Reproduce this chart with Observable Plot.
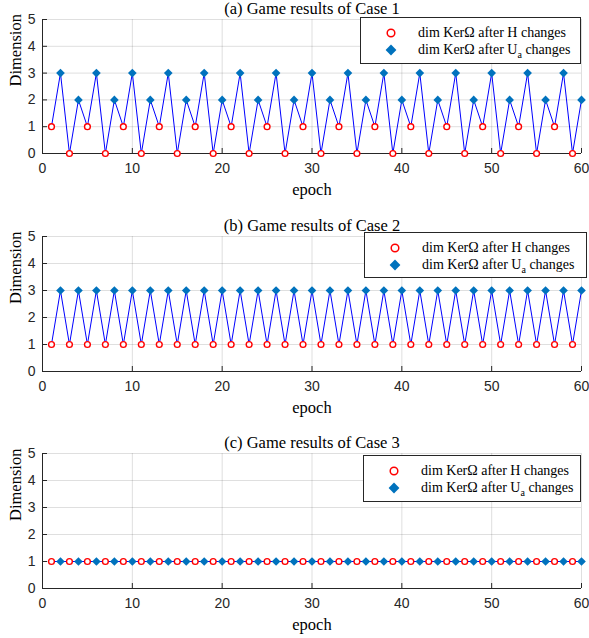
<!DOCTYPE html>
<html>
<head>
<meta charset="utf-8">
<script src="https://cdn.jsdelivr.net/npm/d3@7"></script>
<script src="https://cdn.jsdelivr.net/npm/@observablehq/plot@0.6"></script>
<style>
  html, body { margin: 0; padding: 0; background: #fff; }
  #wrap { position: relative; width: 589px; height: 638px; overflow: hidden; }
  .panel { position: absolute; left: 0; }
  .legend {
    position: absolute; background: #fff; border: 1px solid #262626;
    font-family: "Liberation Serif", "Times New Roman", serif; font-size: 14px; color: #000;
    box-sizing: border-box;
  }
  .legend .row { position: absolute; left: 0; height: 16px; line-height: 16px; white-space: nowrap; }
  .legend svg { position: absolute; top: 0; }
  .legend .lbl { position: absolute; top: 0; }
  .legend sub { font-size: 10px; vertical-align: -4px; line-height: 0; }
</style>
</head>
<body>
<div id="wrap"></div>
<script>
// ---- data ----
const epochs = [1,2,3,4,5,6,7,8,9,10,11,12,13,14,15,16,17,18,19,20,
  21,22,23,24,25,26,27,28,29,30,31,32,33,34,35,36,37,38,39,40,
  41,42,43,44,45,46,47,48,49,50,51,52,53,54,55,56,57,58,59,60];
const case1 = [1,3,0,2,1,3,0,2,1,3,0,2,1,3,0,2,1,3,0,2,
  1,3,0,2,1,3,0,2,1,3,0,2,1,3,0,2,1,3,0,2,
  1,3,0,2,1,3,0,2,1,3,0,2,1,3,0,2,1,3,0,2];
const case2 = [1,3,1,3,1,3,1,3,1,3,1,3,1,3,1,3,1,3,1,3,
  1,3,1,3,1,3,1,3,1,3,1,3,1,3,1,3,1,3,1,3,
  1,3,1,3,1,3,1,3,1,3,1,3,1,3,1,3,1,3,1,3];
const case3 = [1,1,1,1,1,1,1,1,1,1,1,1,1,1,1,1,1,1,1,1,
  1,1,1,1,1,1,1,1,1,1,1,1,1,1,1,1,1,1,1,1,
  1,1,1,1,1,1,1,1,1,1,1,1,1,1,1,1,1,1,1,1];
const titles = ["(a) Game results of Case 1", "(b) Game results of Case 2", "(c) Game results of Case 3"];
const xTicks = [0,10,20,30,40,50,60];
const yTicks = [0,1,2,3,4,5];
const xLabel = "epoch";
const yLabel = "Dimension";
const legendH = "dim KerΩ after H changes";
const legendUa = "dim KerΩ after U<sub>a</sub> changes";

const diamond = d3.symbolDiamond2 || "diamond";
const serif = '"Liberation Serif", "Times New Roman", serif';
const sans = '"Liberation Sans", Arial, Helvetica, sans-serif';
const axisColor = "#262626";

const panels = [
  {values: case1, top: 0, height: 217, mb: 64, legend: {left: 360, top: 17, width: 221, height: 47}},
  {values: case2, top: 217, height: 217, mb: 63, legend: {left: 364, top: 232, width: 223, height: 46}},
  {values: case3, top: 434, height: 204, mb: 50, legend: {left: 363, top: 455, width: 218, height: 47}}
];

const wrap = document.getElementById("wrap");
const W = 589, ML = 42, MR = 8, MT = 19;
const plotW = W - ML - MR;

panels.forEach((p, i) => {
  const rows = epochs.map((e, k) => ({epoch: e, dim: p.values[k], stage: e % 2 === 1 ? "H" : "Ua"}));
  const plotH = p.height - MT - p.mb;
  const labelStyle = {fontFamily: serif, fontSize: 16.5, fontWeight: "normal", fill: "#000", lineAnchor: "middle"};
  const chart = Plot.plot({
    width: W, height: p.height,
    marginTop: MT, marginBottom: p.mb, marginLeft: ML, marginRight: MR,
    style: {fontFamily: sans, fontSize: "14px", color: axisColor, background: "transparent", overflow: "visible"},
    x: {domain: [0, 60]},
    y: {domain: [0, 5]},
    marks: [
      Plot.gridX(xTicks, {stroke: axisColor, strokeOpacity: 0.15, strokeWidth: 1}),
      Plot.gridY(yTicks, {stroke: axisColor, strokeOpacity: 0.15, strokeWidth: 1}),
      Plot.ruleX([0], {stroke: axisColor, strokeWidth: 1}),
      Plot.ruleY([0], {stroke: axisColor, strokeWidth: 1}),
      Plot.tickX(xTicks, {x: d => d, insetTop: plotH - 5, stroke: axisColor}),
      Plot.tickY(yTicks, {y: d => d, insetRight: plotW - 5, stroke: axisColor}),
      Plot.axisX({ticks: xTicks, tickSize: 0, tickPadding: 10, label: null, fontSize: 14, tickFormat: d => d}),
      Plot.axisY({ticks: yTicks, tickSize: 0, tickPadding: 7, label: null, fontSize: 14, tickFormat: d => d}),
      Plot.line(rows, {x: "epoch", y: "dim", stroke: "#0000ff", strokeWidth: 1}),
      Plot.dot(rows.filter(d => d.stage === "H"), {x: "epoch", y: "dim", r: 2.9, stroke: "#ff0000", strokeWidth: 1.4, fill: "white"}),
      Plot.dot(rows.filter(d => d.stage === "Ua"), {x: "epoch", y: "dim", r: 3.9, symbol: diamond, fill: "#0072bd", stroke: "none"}),
      Plot.text([titles[i]], {frameAnchor: "top", dy: -10.5, ...labelStyle}),
      Plot.text([xLabel], {frameAnchor: "bottom", dy: 36, ...labelStyle}),
      Plot.text([yLabel], {frameAnchor: "left", dx: -27, rotate: -90, ...labelStyle})
    ]
  });
  chart.classList.add("panel");
  chart.style.top = p.top + "px";
  wrap.appendChild(chart);

  // legend
  const lg = document.createElement("div");
  lg.className = "legend";
  Object.assign(lg.style, {left: p.legend.left + "px", top: p.legend.top + "px", width: p.legend.width + "px", height: p.legend.height + "px"});
  const entries = [
    {html: legendH, sym: '<circle cx="8" cy="8" r="3.8" fill="white" stroke="#ff0000" stroke-width="1.5"/>'},
    {html: legendUa, sym: '<path d="M8,2.6L13.4,8L8,13.4L2.6,8Z" fill="#0072bd"/>'}
  ];
  entries.forEach((e, k) => {
    const row = document.createElement("div");
    row.className = "row";
    row.style.top = (7 + k * 17) + "px";
    row.style.width = "100%";
    row.innerHTML = `<svg width="16" height="16" style="left:${22}px">${e.sym}</svg><span class="lbl" style="left:57px">${e.html}</span>`;
    lg.appendChild(row);
  });
  wrap.appendChild(lg);
});
</script>
</body>
</html>
